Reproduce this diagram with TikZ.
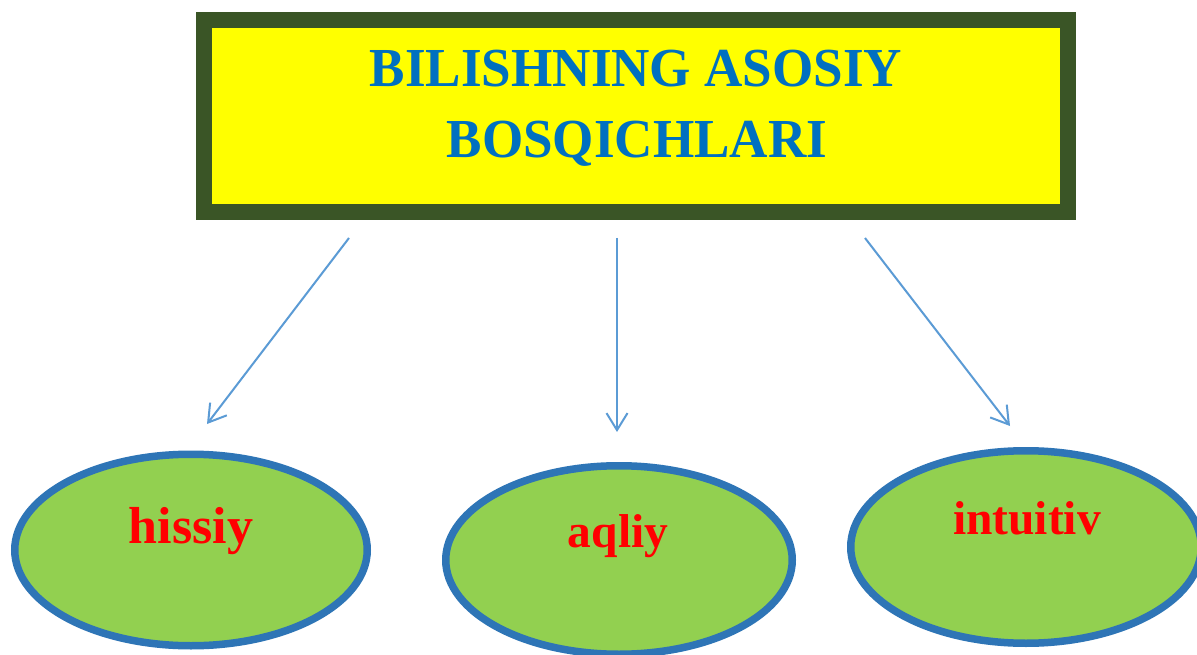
\documentclass[tikz,border=0pt]{standalone}
\usepackage{fontspec}
\setmainfont{Liberation Serif}
\usetikzlibrary{shapes.geometric,arrows.meta}
\definecolor{boxgreen}{HTML}{3A5526}
\definecolor{boxyellow}{HTML}{FFFF00}
\definecolor{titleblue}{HTML}{0070C0}
\definecolor{arrowblue}{HTML}{5B9BD5}
\definecolor{ovalfill}{HTML}{92D050}
\definecolor{ovalline}{HTML}{2E75B6}
\definecolor{labelred}{HTML}{FF0000}
\tikzset{
  titlebox/.style={draw=boxgreen, fill=boxyellow, line width=16pt, rectangle,
    minimum width=864pt, minimum height=192pt, inner sep=0pt},
  titletext/.style={text=titleblue, anchor=base, inner sep=0pt,
    font=\fontsize{55}{66}\selectfont\bfseries},
  oval/.style={draw=ovalline, fill=ovalfill, line width=7.5pt, ellipse,
    inner sep=0pt},
  ovaltext/.style={text=labelred, anchor=base, inner sep=0pt,
    font=\fontsize{#1}{#1}\selectfont\bfseries},
  arrowline/.style={draw=arrowblue, line width=2pt,
    -{Straight Barb[length=17pt,width=21pt,line width=2pt]}}
}
\begin{document}
\begin{tikzpicture}[x=1pt,y=-1pt]
\useasboundingbox (0,0) rectangle (1197,655);
\clip (0,0) rectangle (1197,655);
\fill[white] (0,0) rectangle (1197,655);

\node[titlebox] (title) at (636,116) {};
\node[titletext] (t1) at (636,87) {\scalebox{0.965}[1]{BILISHNING ASOSIY}};
\node[titletext] (t2) at (637,158) {\scalebox{0.965}[1]{BOSQICHLARI}};

\node[oval, minimum width=352.5pt, minimum height=191.5pt] (o1) at (191,550) {};
\node[oval, minimum width=346.5pt, minimum height=188.5pt] (o2) at (619,560) {};
\node[oval, minimum width=350.5pt, minimum height=192.5pt] (o3) at (1026,547) {};

\node[ovaltext=52] (l1) at (191,543) {hissiy};
\node[ovaltext=47.5] (l2) at (618,547) {aqliy};
\node[ovaltext=47.5] (l3) at (1027,534) {intuitiv};

\coordinate (s1) at (349,238);
\coordinate (e1) at (207,424);
\coordinate (s2) at (617,238);
\coordinate (e2) at (617,432);
\coordinate (s3) at (865,238);
\coordinate (e3) at (1010,426);

\draw[arrowline] (s1) -- (e1);
\draw[arrowline] (s2) -- (e2);
\draw[arrowline] (s3) -- (e3);
\end{tikzpicture}
\end{document}
